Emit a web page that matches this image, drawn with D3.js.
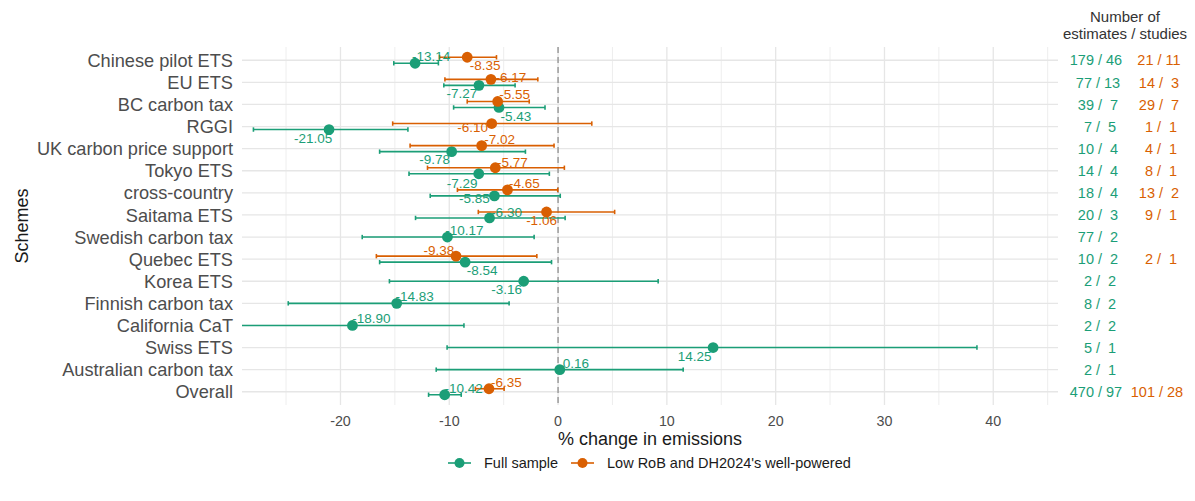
<!DOCTYPE html>
<html>
<head>
<meta charset="utf-8">
<script src="https://cdn.jsdelivr.net/npm/d3@7"></script>
<style>
  body { margin: 0; background: #fff; }
  svg { font-family: "Liberation Sans", Arial, sans-serif; }
  .pre { white-space: pre; }
</style>
</head>
<body>
<div id="chart"></div>
<script>
// data
var schemes = ['Chinese pilot ETS', 'EU ETS', 'BC carbon tax', 'RGGI', 'UK carbon price support',
  'Tokyo ETS', 'cross-country', 'Saitama ETS', 'Swedish carbon tax', 'Quebec ETS', 'Korea ETS',
  'Finnish carbon tax', 'California CaT', 'Swiss ETS', 'Australian carbon tax', 'Overall'];

var fullEst = [-13.14, -7.27, -5.43, -21.05, -9.78, -7.29, -5.85, -6.30, -10.17, -8.54, -3.16, -14.83, -18.90, 14.25, 0.16, -10.42];
var fullLo  = [-15.1, -10.5, -9.6, -28.0, -16.4, -13.7, -11.75, -13.1, -18.0, -16.4, -15.5, -24.8, -29.5, -10.2, -11.2, -11.9];
var fullHi  = [-11.0, -3.95, -1.2, -13.8, -3.0, -0.8, 0.2, 0.65, -2.2, -0.6, 9.2, -4.5, -8.65, 38.5, 11.5, -8.9];

var lowEst = [-8.35, -6.17, -5.55, -6.10, -7.02, -5.77, -4.65, -1.06, null, -9.38, null, null, null, null, null, -6.35];
var lowLo  = [-10.9, -10.4, -8.35, -15.2, -13.6, -12.0, -9.25, -7.33, null, -16.7, null, null, null, null, null, -7.6];
var lowHi  = [-5.66, -1.86, -2.65, 3.1, -0.37, 0.58, -0.03, 5.2, null, -1.95, null, null, null, null, null, -4.96];

var fullN       = [179, 77, 39, 7, 10, 14, 18, 20, 77, 10, 2, 8, 2, 5, 2, 470];
var fullStudies = [46, 13, 7, 5, 4, 4, 4, 3, 2, 2, 2, 2, 2, 1, 1, 97];
var lowN        = [21, 14, 29, 1, 4, 8, 13, 9, null, 2, null, null, null, null, null, 101];
var lowStudies  = [11, 3, 7, 1, 1, 1, 2, 1, null, 1, null, null, null, null, null, 28];

var xTicks = [-20, -10, 0, 10, 20, 30, 40];
var xMinor = [-25, -15, -5, 5, 15, 25, 35, 45];

var seriesNames = ['Full sample', "Low RoB and DH2024's well-powered"];
var colors = { full: '#1b9e77', low: '#d95f02' };

// label placement (pixel offsets from the dot, like ggrepel put them)
var labelNudge = {
  'Chinese pilot ETS':     { full: [16, -7], low: [18, 8] },
  'EU ETS':                { full: [-17, 8], low: [20, -2] },
  'BC carbon tax':         { full: [17, 8.5], low: [17, -7.5] },
  'RGGI':                  { full: [-16, 9], low: [-19, 3.5] },
  'UK carbon price support': { full: [-17, 7.5], low: [18, -6.5] },
  'Tokyo ETS':             { full: [-16.5, 9], low: [17, -6] },
  'cross-country':         { full: [-20, 2.5], low: [17, -6.5] },
  'Saitama ETS':           { full: [17, -5.5], low: [-5, 8.5] },
  'Swedish carbon tax':    { full: [17, -6.5] },
  'Quebec ETS':            { full: [17, 7.5], low: [-17, -6.5] },
  'Korea ETS':             { full: [-17, 8] },
  'Finnish carbon tax':    { full: [18, -7] },
  'California CaT':        { full: [19, -7] },
  'Swiss ETS':             { full: [-18.5, 8.5] },
  'Australian carbon tax': { full: [16, -6.5] },
  'Overall':               { full: [19, -6.5], low: [17.5, -7] }
};

var width = 1195, height = 501;
var panel = { left: 242, right: 1058, top: 47, bottom: 405 };

var rows = [];
schemes.forEach(function (s, i) {
  var both = lowEst[i] != null;
  rows.push({ scheme: s, key: 'full', est: fullEst[i], lo: fullLo[i], hi: fullHi[i], dodge: both ? 'full' : 'mid' });
  if (both) rows.push({ scheme: s, key: 'low', est: lowEst[i], lo: lowLo[i], hi: lowHi[i], dodge: 'low' });
});

var x = d3.scaleLinear().domain([-29.05, 45.95]).range([panel.left, panel.right]);
var y = d3.scalePoint().domain(schemes).range([panel.top, panel.bottom]).padding(0.6);
var dodge = d3.scaleOrdinal().domain(['low', 'mid', 'full']).range([-3, 0, 3]);

var svg = d3.select('#chart').append('svg')
    .attr('width', width)
    .attr('height', height);

svg.append('defs').append('clipPath').attr('id', 'clip')
  .append('rect')
    .attr('x', panel.left).attr('y', panel.top)
    .attr('width', panel.right - panel.left).attr('height', panel.bottom - panel.top);

// grid
var grid = svg.append('g').classed('grid', true);
grid.selectAll('line.minor').data(xMinor).enter().append('line')
    .attr('x1', function (d) { return x(d); }).attr('x2', function (d) { return x(d); })
    .attr('y1', panel.top).attr('y2', panel.bottom)
    .attr('stroke', '#ececec').attr('stroke-width', 0.9);
grid.selectAll('line.major').data(xTicks).enter().append('line')
    .attr('x1', function (d) { return x(d); }).attr('x2', function (d) { return x(d); })
    .attr('y1', panel.top).attr('y2', panel.bottom)
    .attr('stroke', '#e6e6e6').attr('stroke-width', 1.3);
grid.selectAll('line.row').data(schemes).enter().append('line')
    .attr('x1', panel.left).attr('x2', panel.right)
    .attr('y1', function (d) { return y(d); }).attr('y2', function (d) { return y(d); })
    .attr('stroke', '#e6e6e6').attr('stroke-width', 1.3);

svg.append('line')
    .attr('x1', x(0)).attr('x2', x(0))
    .attr('y1', panel.top).attr('y2', panel.bottom)
    .attr('stroke', '#8f8f8f').attr('stroke-width', 1.3)
    .attr('stroke-dasharray', '6,4');

// error bars and points
var marks = svg.append('g').attr('clip-path', 'url(#clip)');
var bars = marks.selectAll('g.bar').data(rows).enter().append('g')
    .attr('transform', function (d) { return 'translate(0,' + (y(d.scheme) + dodge(d.dodge)) + ')'; })
    .attr('stroke', function (d) { return colors[d.key]; })
    .attr('stroke-width', 1.6);
bars.append('line')
    .attr('x1', function (d) { return x(d.lo); }).attr('x2', function (d) { return x(d.hi); });
bars.append('line')
    .attr('x1', function (d) { return x(d.lo); }).attr('x2', function (d) { return x(d.lo); })
    .attr('y1', -2.2).attr('y2', 2.2);
bars.append('line')
    .attr('x1', function (d) { return x(d.hi); }).attr('x2', function (d) { return x(d.hi); })
    .attr('y1', -2.2).attr('y2', 2.2);
bars.append('circle')
    .attr('cx', function (d) { return x(d.est); })
    .attr('r', 5.4)
    .attr('stroke', 'none')
    .attr('fill', function (d) { return colors[d.key]; });

// estimate labels
svg.append('g').selectAll('text').data(rows).enter().append('text')
    .attr('x', function (d) { return x(d.est) + labelNudge[d.scheme][d.key][0]; })
    .attr('y', function (d) { return y(d.scheme) + dodge(d.dodge) + labelNudge[d.scheme][d.key][1]; })
    .attr('dy', '0.36em')
    .attr('text-anchor', 'middle')
    .attr('font-size', 13.5)
    .attr('fill', function (d) { return colors[d.key]; })
    .text(function (d) { return d.est.toFixed(2); });

// y axis labels
svg.append('g').selectAll('text').data(schemes).enter().append('text')
    .attr('x', 233)
    .attr('y', function (d) { return y(d); })
    .attr('dy', '0.36em')
    .attr('text-anchor', 'end')
    .attr('font-size', 18.2)
    .attr('fill', '#4d4d4d')
    .text(function (d) { return d; });

svg.append('text')
    .attr('transform', 'translate(22,' + ((panel.top + panel.bottom) / 2) + ') rotate(-90)')
    .attr('dy', '0.36em')
    .attr('text-anchor', 'middle')
    .attr('font-size', 18)
    .attr('fill', '#1a1a1a')
    .text('Schemes');

// x axis
svg.append('g').selectAll('text').data(xTicks).enter().append('text')
    .attr('x', function (d) { return x(d); })
    .attr('y', 421)
    .attr('dy', '0.36em')
    .attr('text-anchor', 'middle')
    .attr('font-size', 14.3)
    .attr('fill', '#4d4d4d')
    .text(function (d) { return d; });

svg.append('text')
    .attr('x', (panel.left + panel.right) / 2)
    .attr('y', 439)
    .attr('dy', '0.36em')
    .attr('text-anchor', 'middle')
    .attr('font-size', 18)
    .attr('fill', '#1a1a1a')
    .text('% change in emissions');

// counts column
var head = svg.append('g').attr('font-size', 15).attr('fill', '#333').attr('text-anchor', 'middle');
head.append('text').attr('x', 1125).attr('y', 17).attr('dy', '0.36em').text('Number of');
head.append('text').attr('x', 1125).attr('y', 34).attr('dy', '0.36em').text('estimates / studies');

function fmtCount(n, s) {
  return d3.format('3d')(n) + ' / ' + d3.format('2d')(s);
}

svg.append('g').selectAll('text').data(schemes).enter().append('text')
    .classed('pre', true)
    .attr('x', 1096)
    .attr('y', function (d) { return y(d); })
    .attr('dy', '0.36em')
    .attr('text-anchor', 'middle')
    .attr('font-size', 14.5)
    .attr('fill', colors.full)
    .text(function (d, i) { return fmtCount(fullN[i], fullStudies[i]); });

svg.append('g').selectAll('text').data(schemes.filter(function (d, i) { return lowN[i] != null; }))
  .enter().append('text')
    .classed('pre', true)
    .attr('x', 1157)
    .attr('y', function (d) { return y(d); })
    .attr('dy', '0.36em')
    .attr('text-anchor', 'middle')
    .attr('font-size', 14.5)
    .attr('fill', colors.low)
    .text(function (d) { var i = schemes.indexOf(d); return fmtCount(lowN[i], lowStudies[i]); });

// legend
var legend = svg.append('g').attr('transform', 'translate(0,463)');
var legendX = [448, 571];
var items = legend.selectAll('g').data(['full', 'low']).enter().append('g')
    .attr('transform', function (d, i) { return 'translate(' + legendX[i] + ',0)'; });
items.append('line')
    .attr('x1', 0).attr('x2', 23)
    .attr('stroke', function (d) { return colors[d]; })
    .attr('stroke-width', 1.6);
items.append('circle')
    .attr('cx', 11.5).attr('r', 5)
    .attr('fill', function (d) { return colors[d]; });
items.append('text')
    .attr('x', 36)
    .attr('dy', '0.36em')
    .attr('font-size', 14.5)
    .attr('fill', '#1a1a1a')
    .text(function (d, i) { return seriesNames[i]; });
</script>
</body>
</html>
